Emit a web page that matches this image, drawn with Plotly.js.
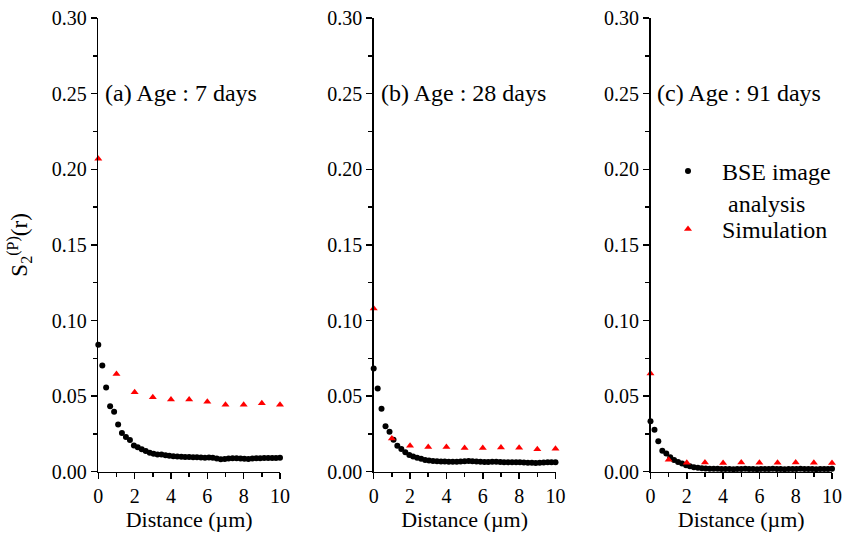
<!DOCTYPE html>
<html>
<head>
<meta charset="utf-8">
<script src="https://cdn.plot.ly/plotly-3.0.1.min.js"></script>
<style>html,body{margin:0;padding:0;background:#fff;}#chart{width:844px;height:534px;}</style>
</head>
<body>
<div id="chart"></div>
<script>
// Sampling distances (µm) for BSE image analysis
const distBSE = [0,0.22,0.43,0.65,0.87,1.09,1.30,1.52,1.74,1.96,2.17,2.39,2.61,2.83,3.04,3.26,3.48,3.70,3.91,4.13,4.35,4.57,4.78,5.00,5.22,5.43,5.65,5.87,6.09,6.30,6.52,6.74,6.96,7.17,7.39,7.61,7.83,8.04,8.26,8.48,8.70,8.91,9.13,9.35,9.57,9.78,10.00];
const bse7 = [0.0840,0.0703,0.0557,0.0433,0.0396,0.0312,0.0256,0.0230,0.0210,0.0174,0.0162,0.0149,0.0137,0.0126,0.0119,0.0114,0.0113,0.0108,0.0105,0.0102,0.0100,0.0099,0.0098,0.0097,0.0096,0.0095,0.0094,0.0093,0.0094,0.0092,0.0088,0.0083,0.0084,0.0088,0.0089,0.0089,0.0087,0.0085,0.0084,0.0087,0.0089,0.0089,0.0090,0.0090,0.0091,0.0090,0.0092];
const bse28 = [0.0682,0.0551,0.0416,0.0300,0.0264,0.0211,0.0171,0.0150,0.0128,0.0110,0.0100,0.0093,0.0085,0.0078,0.0074,0.0071,0.0069,0.0068,0.0067,0.0066,0.0066,0.0066,0.0067,0.0069,0.0070,0.0069,0.0067,0.0065,0.0064,0.0064,0.0065,0.0065,0.0064,0.0063,0.0063,0.0062,0.0062,0.0062,0.0061,0.0060,0.0059,0.0058,0.0059,0.0061,0.0062,0.0063,0.0063];
const bse91 = [0.0334,0.0277,0.0201,0.0138,0.0121,0.0095,0.0077,0.0064,0.0054,0.0043,0.0036,0.0030,0.0026,0.0023,0.0021,0.0020,0.0019,0.0019,0.0018,0.0018,0.0018,0.0017,0.0018,0.0018,0.0019,0.0018,0.0018,0.0017,0.0018,0.0018,0.0018,0.0019,0.0018,0.0018,0.0017,0.0018,0.0018,0.0018,0.0019,0.0018,0.0018,0.0018,0.0017,0.0018,0.0018,0.0018,0.0019];
// Simulation
const distSim = [0,1,2,3,4,5,6,7,8,9,10];
const sim7 = [0.207,0.0646,0.0526,0.0493,0.0477,0.0477,0.0462,0.0442,0.0442,0.0453,0.0442];
const sim28 = [0.108,0.0220,0.0171,0.0164,0.0164,0.0156,0.0156,0.0160,0.0158,0.0149,0.0151];
const sim91 = [0.065,0.0079,0.0059,0.0061,0.0057,0.0061,0.0060,0.0060,0.0061,0.0059,0.0058];
const panelLabels = ['(a) Age : 7 days','(b) Age : 28 days','(c) Age : 91 days'];
const xTitle = 'Distance (\u00b5m)';
const yTitle = 'S<sub>2</sub><sup>(P)</sup>(r)';
const legendBSE = 'BSE image<br>\u00a0analysis';
const legendSim = 'Simulation';

const FONT = "'Liberation Serif', 'Times New Roman', Times, serif";
const bseSets = [bse7, bse28, bse91];
const simSets = [sim7, sim28, sim91];
const axSuffix = ['', '2', '3'];
const traces = [];
for (let i = 0; i < 3; i++) {
  traces.push({x: distBSE, y: bseSets[i], xaxis: 'x' + axSuffix[i], yaxis: 'y' + axSuffix[i],
    type: 'scatter', mode: 'markers', name: legendBSE, legendgroup: 'bse', legend: 'legend', showlegend: i === 2,
    cliponaxis: false, marker: {color: '#000', size: 6, symbol: 'circle'}});
}
for (let i = 0; i < 3; i++) {
  traces.push({x: distSim, y: simSets[i], xaxis: 'x' + axSuffix[i], yaxis: 'y' + axSuffix[i],
    type: 'scatter', mode: 'markers', name: legendSim, legendgroup: 'sim', legend: 'legend2', showlegend: i === 2,
    cliponaxis: false, marker: {color: '#ff0000', size: 7, symbol: 'triangle-up'}});
}
const xDomains = [[98.3/844, 280/844], [373.7/844, 555.5/844], [650.5/844, 832/844]];
const yDomain = [(534-471.7)/534, (534-18.1)/534];
const legendFont = {family: FONT, size: 24, color: '#000'};
const layout = {
  width: 844, height: 534,
  margin: {l: 0, r: 0, t: 0, b: 0},
  paper_bgcolor: '#fff', plot_bgcolor: 'rgba(0,0,0,0)',
  font: {family: FONT, size: 20, color: '#000'},
  showlegend: true,
  legend: {x: 654/844, y: 1 - 149/534, xanchor: 'left', yanchor: 'top', itemwidth: 58,
    valign: 'top', font: legendFont, bgcolor: 'rgba(0,0,0,0)'},
  legend2: {x: 654/844, y: 1 - 207/534, xanchor: 'left', yanchor: 'top', itemwidth: 58,
    valign: 'top', font: legendFont, bgcolor: 'rgba(0,0,0,0)'},
  annotations: [],
};
for (let i = 0; i < 3; i++) {
  layout['xaxis' + axSuffix[i]] = {
    domain: xDomains[i], anchor: 'y' + axSuffix[i], range: [0, 10], dtick: 2, tick0: 0,
    showgrid: false, zeroline: false, showline: true, linecolor: '#000', linewidth: 1.5,
    ticks: 'outside', ticklen: 6, tickwidth: 1.5, tickcolor: '#000',
    minor: {dtick: 1, ticks: 'outside', ticklen: 4, tickwidth: 1.5, tickcolor: '#000', showgrid: false},
    tickfont: {family: FONT, size: 20, color: '#000'},
    title: {text: xTitle, font: {family: FONT, size: 22, color: '#000'}, standoff: 0}
  };
  const yax = {
    domain: yDomain, anchor: 'x' + axSuffix[i], range: [0, 0.30], dtick: 0.05, tick0: 0, tickformat: '.2f',
    showgrid: false, zeroline: false, showline: true, linecolor: '#000', linewidth: 1.5,
    ticks: 'outside', ticklen: 6, tickwidth: 1.5, tickcolor: '#000',
    minor: {dtick: 0.025, ticks: 'outside', ticklen: 4, tickwidth: 1.5, tickcolor: '#000', showgrid: false},
    tickfont: {family: FONT, size: 20, color: '#000'}
  };
  if (i === 0) yax.title = {text: yTitle, font: {family: FONT, size: 23, color: '#000'}, standoff: 17};
  layout['yaxis' + axSuffix[i]] = yax;
  layout.annotations.push({
    text: panelLabels[i], xref: 'paper', yref: 'paper',
    x: [103, 379, 655][i] / 844, y: 1 - 93/534, xanchor: 'left', yanchor: 'middle',
    showarrow: false, font: {family: FONT, size: 24, color: '#000'}
  });
}
Plotly.newPlot('chart', traces, layout, {staticPlot: true, displayModeBar: false});
</script>
</body>
</html>
